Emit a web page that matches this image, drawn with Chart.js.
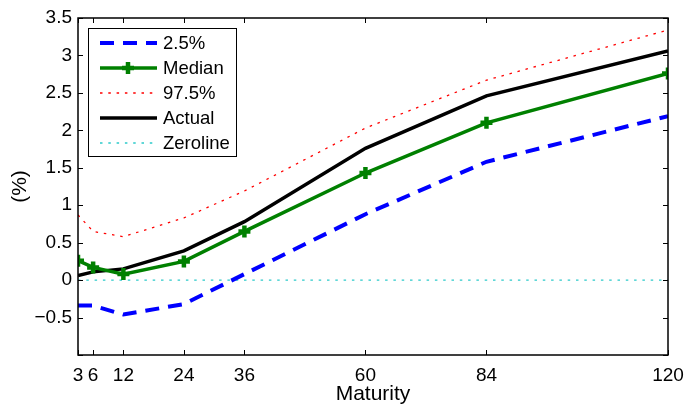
<!DOCTYPE html>
<html>
<head>
<meta charset="utf-8">
<script src="https://cdn.jsdelivr.net/npm/chart.js@4/dist/chart.umd.min.js"></script>
<style>
  html, body { margin: 0; padding: 0; background: #fff; }
  #wrap { width: 687px; height: 407px; }
</style>
</head>
<body>
<div id="wrap"><canvas id="c"></canvas></div>
<script>
const maturities = [3, 6, 12, 24, 36, 60, 84, 120];
const yTicks = [-1, -0.5, 0, 0.5, 1, 1.5, 2, 2.5, 3, 3.5];

const low = [-0.34, -0.34, -0.46, -0.32, 0.08, 0.88, 1.58, 2.19];
const median = [0.26, 0.17, 0.08, 0.25, 0.65, 1.43, 2.10, 2.76];
const high = [0.87, 0.65, 0.58, 0.83, 1.19, 2.03, 2.67, 3.34];
const actual = [0.06, 0.11, 0.15, 0.39, 0.78, 1.76, 2.46, 3.06];
const zeroline = [0, 0, 0, 0, 0, 0, 0, 0];

const FONT = 'Liberation Sans, Arial, Helvetica, sans-serif';

function pts(vals) {
  return maturities.map((m, i) => ({ x: m, y: vals[i] }));
}

// MATLAB-style box with inward ticks on every side
const boxTicks = {
  id: 'boxTicks',
  afterDatasetsDraw(chart) {
    const { ctx, chartArea: a, scales } = chart;
    ctx.save();
    ctx.strokeStyle = '#000';
    ctx.lineWidth = 1;
    const len = 5;
    ctx.beginPath();
    maturities.forEach(m => {
      const x = Math.round(scales.x.getPixelForValue(m)) + 0.5;
      ctx.moveTo(x, a.bottom); ctx.lineTo(x, a.bottom - len);
      ctx.moveTo(x, a.top); ctx.lineTo(x, a.top + len);
    });
    yTicks.forEach(v => {
      const y = Math.round(scales.y.getPixelForValue(v)) + 0.5;
      ctx.moveTo(a.left, y); ctx.lineTo(a.left + len, y);
      ctx.moveTo(a.right, y); ctx.lineTo(a.right - len, y);
    });
    ctx.stroke();
    ctx.lineWidth = 1.5;
    ctx.strokeRect(a.left, a.top, a.right - a.left, a.bottom - a.top);
    ctx.restore();
  }
};

// legend box in the upper left corner
const boxLegend = {
  id: 'boxLegend',
  afterDraw(chart) {
    const { ctx, chartArea: a } = chart;
    const x0 = a.left + 10, y0 = a.top + 10, w = 148, h = 128;
    ctx.save();
    ctx.fillStyle = '#fff';
    ctx.fillRect(x0, y0, w, h);
    ctx.strokeStyle = '#000';
    ctx.lineWidth = 1;
    ctx.strokeRect(x0 + 0.5, y0 + 0.5, w, h);
    chart.data.datasets.forEach((ds, i) => {
      const y = y0 + 15 + i * 25;
      ctx.strokeStyle = ds.borderColor;
      ctx.lineWidth = ds.borderWidth;
      ctx.setLineDash(ds.borderDash || []);
      ctx.beginPath();
      ctx.moveTo(x0 + 12, y);
      ctx.lineTo(x0 + 69, y);
      ctx.stroke();
      ctx.setLineDash([]);
      if (ds.pointRadius > 0) {
        const cx = x0 + 40, r = ds.pointRadius;
        ctx.lineWidth = ds.pointBorderWidth;
        ctx.strokeStyle = ds.pointBorderColor;
        ctx.beginPath();
        ctx.moveTo(cx - r, y); ctx.lineTo(cx + r, y);
        ctx.moveTo(cx, y - r); ctx.lineTo(cx, y + r);
        ctx.stroke();
      }
      ctx.fillStyle = '#000';
      ctx.font = '18.5px ' + FONT;
      ctx.textBaseline = 'middle';
      ctx.fillText(ds.label, x0 + 75, y + 1);
    });
    ctx.restore();
  }
};

new Chart(document.getElementById('c'), {
  type: 'line',
  data: {
    datasets: [
      { label: '2.5%', data: pts(low), borderColor: '#0000ff', borderWidth: 4, borderDash: [14, 9], pointRadius: 0 },
      { label: 'Median', data: pts(median), borderColor: '#008000', borderWidth: 3.5, pointStyle: 'cross',
        pointRadius: 6, pointBorderWidth: 4.5, pointBorderColor: '#008000', pointBackgroundColor: '#008000' },
      { label: '97.5%', data: pts(high), borderColor: '#ff0000', borderWidth: 1.3, borderDash: [2.5, 5.8], pointRadius: 0 },
      { label: 'Actual', data: pts(actual), borderColor: '#000000', borderWidth: 3.5, pointRadius: 0 },
      { label: 'Zeroline', data: pts(zeroline), borderColor: '#2ccaca', borderWidth: 1.4, borderDash: [2.5, 5.8], pointRadius: 0 }
    ]
  },
  options: {
    responsive: true,
    maintainAspectRatio: false,
    animation: false,
    layout: { padding: { top: 18, right: 19, left: 0, bottom: 0 } },
    elements: { line: { tension: 0, borderCapStyle: 'butt' } },
    plugins: { legend: { display: false }, tooltip: { enabled: false } },
    scales: {
      x: {
        type: 'linear', min: 3, max: 120,
        afterBuildTicks(s) { s.ticks = maturities.map(v => ({ value: v })); },
        grid: { display: false, drawTicks: false },
        border: { display: false },
        ticks: { color: '#000', font: { family: FONT, size: 19 }, padding: 9, maxRotation: 0, autoSkip: false },
        title: { display: true, text: 'Maturity', color: '#000', font: { family: FONT, size: 21 }, padding: { top: 0, bottom: 0 } },
        afterFit(s) { s.height = 52; s.paddingLeft = 0; s.paddingRight = 0; }
      },
      y: {
        min: -1, max: 3.5,
        afterBuildTicks(s) { s.ticks = yTicks.map(v => ({ value: v })); },
        grid: { display: false, drawTicks: false },
        border: { display: false },
        ticks: {
          color: '#000', font: { family: FONT, size: 19 }, padding: 6,
          callback: v => v === -1 ? '' : String(v).replace('-', '\u2212')
        },
        title: { display: true, text: '(%)', color: '#000', font: { family: FONT, size: 21 }, padding: { top: 8, bottom: 0 } },
        afterFit(s) { s.width = 78; s.paddingTop = 0; s.paddingBottom = 0; }
      }
    }
  },
  plugins: [boxTicks, boxLegend]
});
</script>
</body>
</html>
